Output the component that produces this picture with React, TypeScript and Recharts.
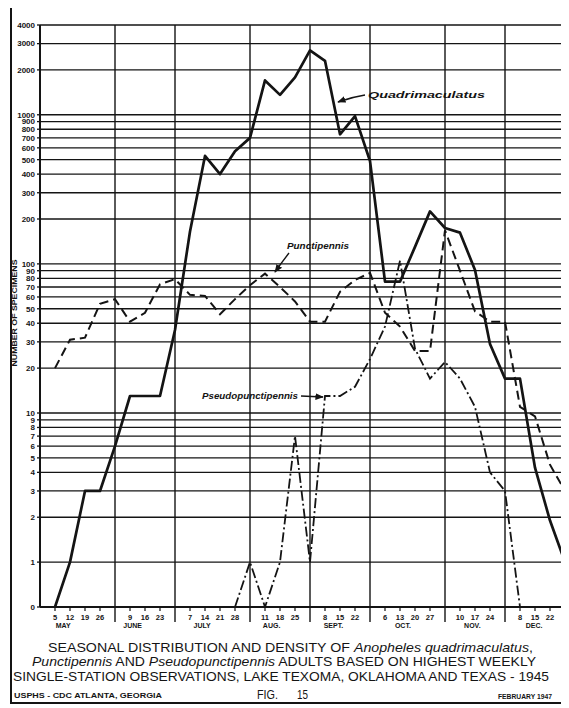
import React from "react";
import { CartesianGrid, Line, LineChart, ReferenceLine, XAxis, YAxis } from "recharts";

// week index 0 = May 5, 1945 ... 34 = Dec 29
const weekDays = [5, 12, 19, 26, 2, 9, 16, 23, 30, 7, 14, 21, 28, 4, 11, 18, 25, 1, 8, 15, 22, 29, 6, 13, 20, 27, 3, 10, 17, 24, 1, 8, 15, 22, 29];
const monthBounds = [4, 8, 13, 17, 21, 26, 30, 34];
const monthNames = ["MAY", "JUNE", "JULY", "AUG.", "SEPT.", "OCT.", "NOV.", "DEC."];
const monthMids = [1.5, 6, 10.5, 15, 19, 23.5, 28, 32];

const quadrimaculatus = [0, 1, 3, 3, 6, 13, 13, 13, 36, 165, 530, 400, 570, 700, 1700, 1360, 1780, 2700, 2300, 740, 980, 490, 76, 76, 130, 225, 174, 162, 91, 29, 17, 17, 4.3, 1.9, 1];
const punctipennis = [20, 31, 32, 54, 58, 41, 47, 73, 79, 62, 61, 46, 58, 72, 86, 70, 56, 41, 41, 65, 78, 87, 47, 38, 26, 26, 168, 90, 48, 41, 41, 11, 9.5, 4.5, 3];
const pseudopunctipennis = [null, null, null, null, null, null, null, null, null, null, null, null, 0, 1, 0, 1, 7, 1, 13, 13, 15, 23, 38, 105, 27, 17, 22, 17, 11, 4, 3, 0, null, null, null];

const yTicks = [0, 1, 2, 3, 4, 5, 6, 7, 8, 9, 10, 20, 30, 40, 50, 60, 70, 80, 90, 100, 200, 300, 400, 500, 600, 700, 800, 900, 1000, 2000, 3000, 4000];

// the chart puts its zero row half a step below 1 on the log scale
const ZERO = 0.5;
const pos = (v: number | null) => (v == null ? null : v === 0 ? ZERO : v);

const data = weekDays.map((d, i) => ({
  i,
  quad: pos(quadrimaculatus[i]),
  punct: pos(punctipennis[i]),
  pseudo: pos(pseudopunctipennis[i])
}));

const INK = "#141414";
const FONT = "'Liberation Sans', Arial, sans-serif";

function WeekTick(props: any) {
  const { x, y, payload } = props;
  const i = payload.value;
  if (i === 34) return null;
  if (monthBounds.includes(i)) {
    return <line x1={x} x2={x} y1={y} y2={y + 15} stroke={INK} strokeWidth={1.4} />;
  }
  return (
    <g>
      <line x1={x} x2={x} y1={y} y2={y + 4} stroke={INK} strokeWidth={1.2} />
      <text x={x} y={y + 12.5} textAnchor="middle" fontSize={7.5} fontWeight={700} fontFamily={FONT} fill={INK}>
        {weekDays[i]}
      </text>
    </g>
  );
}

function MonthTick(props: any) {
  const { x, y, payload } = props;
  const k = monthMids.indexOf(payload.value);
  return (
    <text x={x} y={y + 7} textAnchor="middle" fontSize={7} fontWeight={700} fontFamily={FONT} fill={INK}>
      {monthNames[k]}
    </text>
  );
}

export default function App() {
  return (
    <div style={{ position: "relative", width: 569, height: 708, marginTop: -8, marginLeft: -8, background: "#fff", overflow: "hidden" }}>
      <LineChart width={569} height={708} data={data} margin={{ top: 25, right: 4, left: 0, bottom: 73 }}>
        <CartesianGrid vertical={false} stroke={INK} strokeWidth={1.3} />
        {monthBounds.map((b) => (
          <ReferenceLine key={b} x={b} stroke={INK} strokeWidth={1.4} />
        ))}
        <XAxis
          dataKey="i"
          type="number"
          domain={[-1, 34]}
          ticks={weekDays.map((d, i) => i)}
          interval={0}
          tick={<WeekTick />}
          tickLine={false}
          tickSize={0}
          tickMargin={0}
          height={14}
          axisLine={{ stroke: INK, strokeWidth: 2 }}
        />
        <XAxis
          xAxisId="month"
          type="number"
          domain={[-1, 34]}
          ticks={monthMids}
          interval={0}
          tick={<MonthTick />}
          tickLine={false}
          tickSize={0}
          tickMargin={0}
          axisLine={false}
          height={14}
        />
        <YAxis
          type="number"
          scale="log"
          domain={[ZERO, 4000]}
          allowDataOverflow
          ticks={yTicks.map((t) => pos(t) as number)}
          interval={0}
          tickFormatter={(v: number) => (v === ZERO ? "0" : String(v))}
          tick={{ fill: INK, fontSize: 8, fontWeight: 700, fontFamily: FONT }}
          tickSize={3}
          tickMargin={2}
          tickLine={{ stroke: INK, strokeWidth: 1.3 }}
          axisLine={{ stroke: INK, strokeWidth: 2 }}
          width={40}
        />
        <Line type="linear" dataKey="quad" stroke={INK} strokeWidth={2.7} dot={false} strokeLinejoin="round" isAnimationActive={false} />
        <Line type="linear" dataKey="punct" stroke={INK} strokeWidth={2} strokeDasharray="9 5" dot={false} isAnimationActive={false} />
        <Line type="linear" dataKey="pseudo" stroke={INK} strokeWidth={1.8} strokeDasharray="10 3 2 3" dot={false} isAnimationActive={false} />
      </LineChart>

      <svg width={569} height={708} style={{ position: "absolute", left: 0, top: 0, pointerEvents: "none" }}>
        <defs>
          <marker id="arrow" viewBox="0 0 10 10" refX="9" refY="5" markerWidth="6" markerHeight="6" orient="auto">
            <path d="M0,1 L10,5 L0,9 z" fill={INK} />
          </marker>
        </defs>
        <rect x={11} y={6} width={554} height={697} fill="none" stroke={INK} strokeWidth={2} />

        <text transform="translate(17,313) rotate(-90)" textAnchor="middle" fontSize={7.5} fontWeight={700} fontFamily={FONT} fill={INK} textLength={107} lengthAdjust="spacingAndGlyphs">
          NUMBER OF SPECIMENS
        </text>

        <text x={368} y={98} fontSize={9.5} fontWeight={700} fontStyle="italic" fontFamily={FONT} fill={INK} textLength={117} lengthAdjust="spacingAndGlyphs">
          Quadrimaculatus
        </text>
        <path d="M365,95 Q352,97 338,102" fill="none" stroke={INK} strokeWidth={1.4} markerEnd="url(#arrow)" />

        <text x={287} y={249} fontSize={9} fontWeight={700} fontStyle="italic" fontFamily={FONT} fill={INK} textLength={62} lengthAdjust="spacingAndGlyphs">
          Punctipennis
        </text>
        <path d="M289,253 Q282,262 275,272" fill="none" stroke={INK} strokeWidth={1.4} markerEnd="url(#arrow)" />

        <text x={202} y={399} fontSize={9} fontWeight={700} fontStyle="italic" fontFamily={FONT} fill={INK} textLength={96} lengthAdjust="spacingAndGlyphs">
          Pseudopunctipennis
        </text>
        <path d="M301,396 L323,397" fill="none" stroke={INK} strokeWidth={1.4} markerEnd="url(#arrow)" />

        <text x={48} y={652} fontSize={13.5} fontFamily={FONT} fill={INK} textLength={485} lengthAdjust="spacingAndGlyphs">
          SEASONAL DISTRIBUTION AND DENSITY OF <tspan fontStyle="italic">Anopheles quadrimaculatus</tspan>,
        </text>
        <text x={32} y={666} fontSize={13.5} fontFamily={FONT} fill={INK} textLength={504} lengthAdjust="spacingAndGlyphs">
          <tspan fontStyle="italic">Punctipennis</tspan> AND <tspan fontStyle="italic">Pseudopunctipennis</tspan> ADULTS BASED ON HIGHEST WEEKLY
        </text>
        <text x={13} y={681} fontSize={13.5} fontFamily={FONT} fill={INK} textLength={536} lengthAdjust="spacingAndGlyphs">
          SINGLE-STATION OBSERVATIONS, LAKE TEXOMA, OKLAHOMA AND TEXAS - 1945
        </text>
        <text x={14} y={698} fontSize={8} fontWeight={700} fontFamily={FONT} fill={INK} textLength={148} lengthAdjust="spacingAndGlyphs">
          USPHS - CDC   ATLANTA, GEORGIA
        </text>
        <text x={257} y={699} fontSize={13.5} fontFamily={FONT} fill={INK} textLength={21} lengthAdjust="spacingAndGlyphs">
          FIG.
        </text>
        <text x={297} y={699} fontSize={13.5} fontFamily={FONT} fill={INK} textLength={11} lengthAdjust="spacingAndGlyphs">
          15
        </text>
        <text x={498} y={699} fontSize={7.5} fontWeight={700} fontFamily={FONT} fill={INK} textLength={54} lengthAdjust="spacingAndGlyphs">
          FEBRUARY 1947
        </text>
      </svg>
    </div>
  );
}
